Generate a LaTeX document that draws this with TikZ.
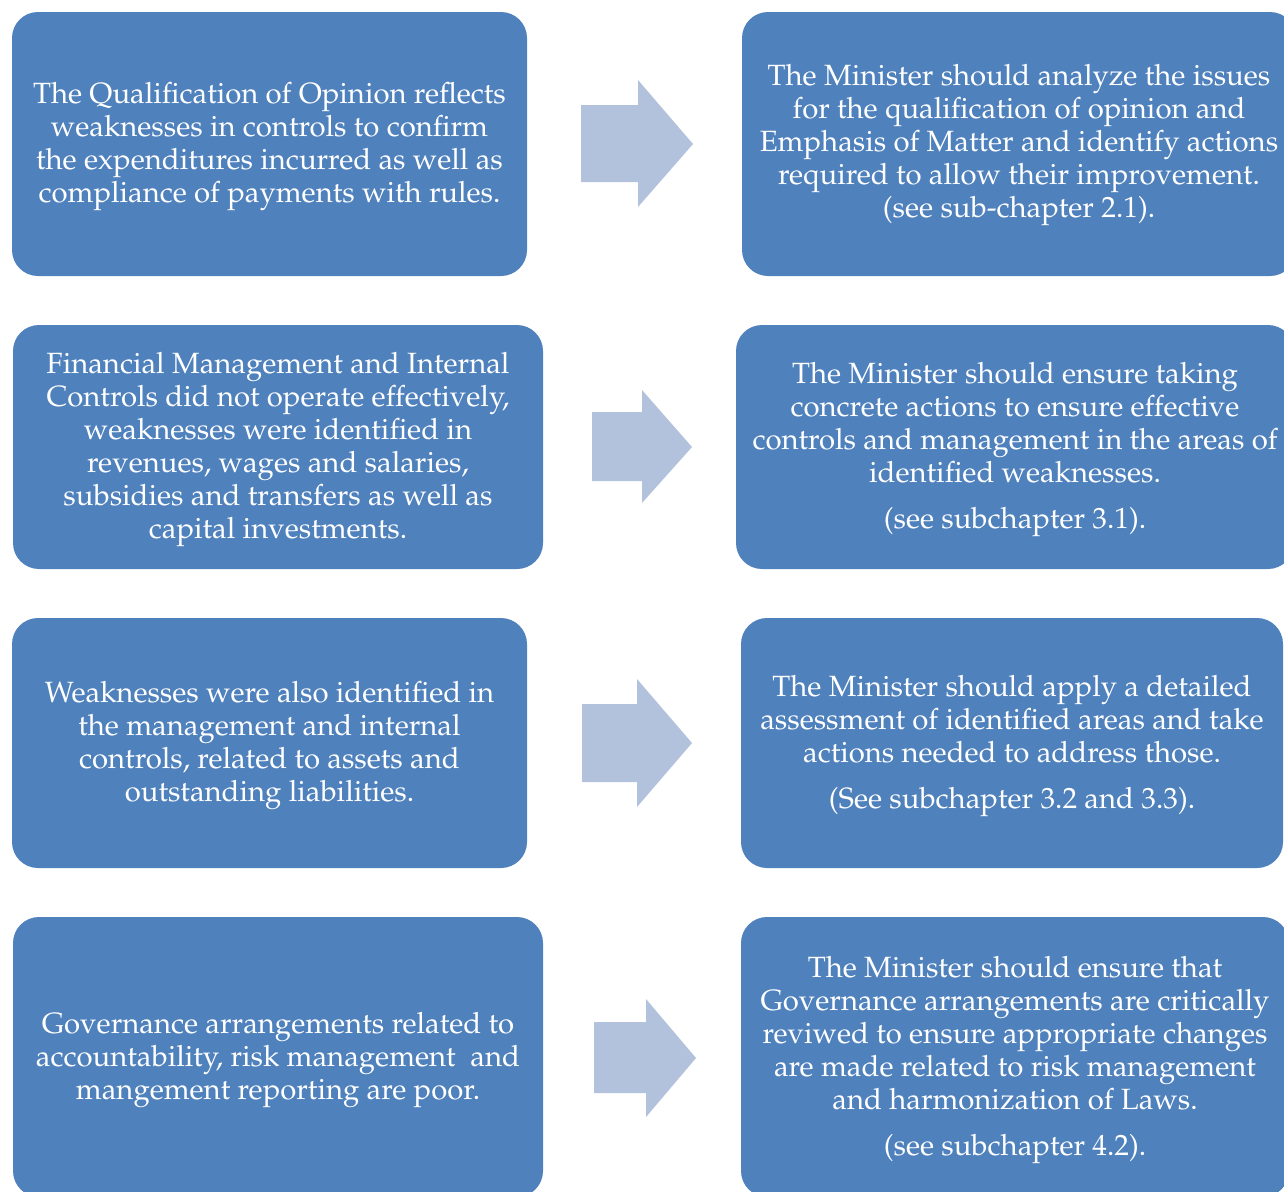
\documentclass[tikz,border=0pt]{standalone}
\usepackage[T1]{fontenc}
\usepackage{mathpazo}
\definecolor{boxblue}{HTML}{4F81BD}
\definecolor{arrowblue}{HTML}{B3C2DC}
\tikzset{
  infobox/.style={fill=boxblue, rounded corners=26pt, inner sep=0pt},
  infotext/.style={text=white, align=center,
    font=\fontsize{29.3}{33}\selectfont, inner sep=0pt},
  blockarrow/.style={fill=arrowblue}
}
\begin{document}
\begin{tikzpicture}[x=1pt,y=-1pt]
\useasboundingbox (0,0) rectangle (1284,1191);
\clip (0,0) rectangle (1284,1191);

% Row 1
\node[infobox, minimum width=515pt, minimum height=264pt] (b1l) at (269.5,144) {};
\node[infotext] (t1l) at ([yshift=-3pt]b1l.center)
 {The Qualification of Opinion reflects\\ weaknesses in controls to confirm\\ the expenditures incurred as well as\\ compliance of payments with rules.};
\node[infobox, minimum width=554pt, minimum height=264pt] (b1r) at (1019,144) {};
\node[infotext] (t1r) at ([yshift=-1.5pt]b1r.center)
 {The Minister should analyze the issues\\ for the qualification of opinion and\\ Emphasis of Matter and identify actions\\ required to allow their improvement.\\ (see sub-chapter 2.1).};
\fill[blockarrow] (581,105) -- (638,105) -- (638,80) -- (693,144) -- (638,207) -- (638,182) -- (581,182) -- cycle;

% Row 2
\node[infobox, minimum width=530pt, minimum height=244pt] (b2l) at (278,447) {};
\node[infotext] (t2l) at ([yshift=-3pt]b2l.center)
 {Financial Management and Internal\\ Controls did not operate effectively,\\ weaknesses were identified in\\ revenues, wages and salaries,\\ subsidies and transfers as well as\\ capital investments.};
\node[infobox, minimum width=558pt, minimum height=244pt] (b2r) at (1015,447) {};
\node[infotext] (t2r) at ([yshift=-3pt]b2r.center)
 {The Minister should ensure taking\\ concrete actions to ensure effective\\ controls and management in the areas of\\ identified weaknesses.\\[13pt] (see subchapter 3.1).};
\fill[blockarrow] (592,412) -- (642,412) -- (642,390) -- (692,447) -- (642,503) -- (642,481) -- (592,481) -- cycle;

% Row 3
\node[infobox, minimum width=515pt, minimum height=250pt] (b3l) at (269.5,743) {};
\node[infotext] (t3l) at ([yshift=-3pt]b3l.center)
 {Weaknesses were also identified in\\ the management and internal\\ controls, related to assets and\\ outstanding liabilities.};
\node[infobox, minimum width=542pt, minimum height=250pt] (b3r) at (1012,743) {};
\node[infotext] (t3r) at ([yshift=-3pt]b3r.center)
 {The Minister should apply a detailed\\ assessment of identified areas and take\\ actions needed to address those.\\[13pt] (See subchapter 3.2 and 3.3).};
\fill[blockarrow] (582,704) -- (637,704) -- (637,679) -- (692,743) -- (637,807) -- (637,782) -- (582,782) -- cycle;

% Row 4
\node[infobox, minimum width=530pt, minimum height=280pt] (b4l) at (278,1057) {};
\node[infotext] (t4l) at ([yshift=-3pt]b4l.center)
 {Governance arrangements related to\\ accountability, risk management\ \ and\\ mangement reporting are poor.};
\node[infobox, minimum width=548pt, minimum height=280pt] (b4r) at (1015,1057) {};
\node[infotext] (t4r) at ([yshift=-3pt]b4r.center)
 {The Minister should ensure that\\ Governance arrangements are critically\\ reviwed to ensure appropriate changes\\ are made related to risk management\\ and harmonization of Laws.\\[13pt] (see subchapter 4.2).};
\fill[blockarrow] (594,1022) -- (646,1022) -- (646,999) -- (696,1058) -- (646,1117) -- (646,1093) -- (594,1093) -- cycle;
\end{tikzpicture}
\end{document}
